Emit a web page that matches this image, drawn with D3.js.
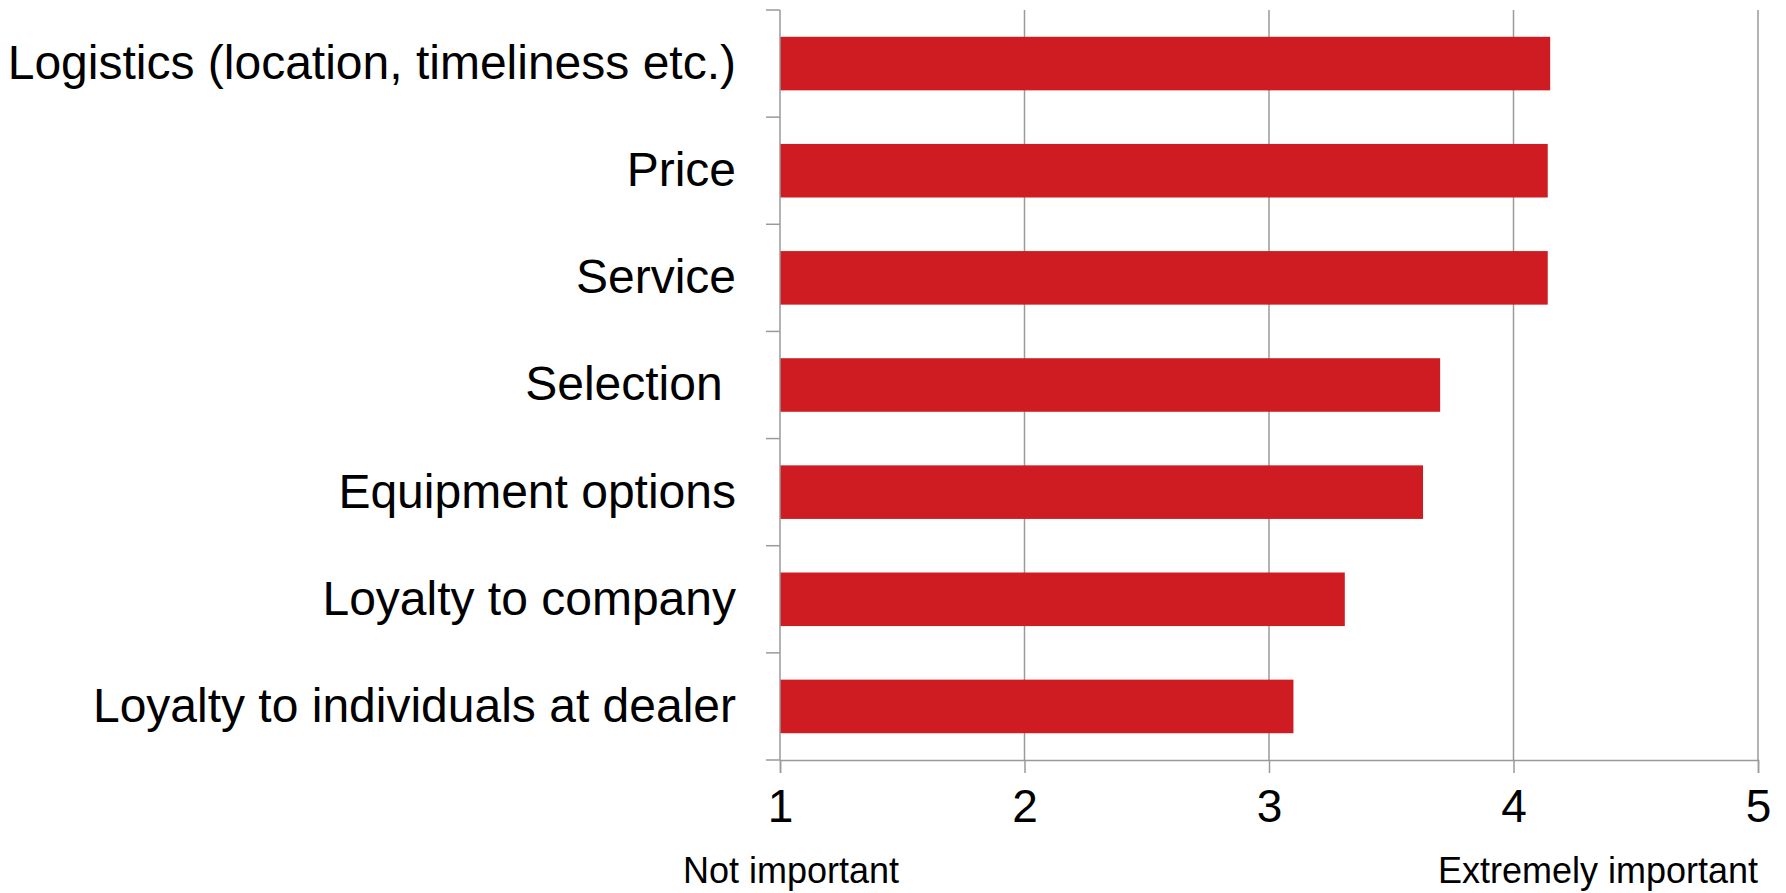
<!DOCTYPE html>
<html>
<head>
<meta charset="utf-8">
<script src="https://cdn.jsdelivr.net/npm/d3@7"></script>
<style>
  html, body { margin: 0; padding: 0; background: #fff; }
  svg { display: block; font-family: "Liberation Sans", Arial, sans-serif; }
</style>
</head>
<body>
<svg id="chart" width="1786" height="893"></svg>
<script>
// Importance ratings (1 = not important, 5 = extremely important)
const categories = [
  "Logistics (location, timeliness etc.)",
  "Price",
  "Service",
  "Selection ",
  "Equipment options",
  "Loyalty to company",
  "Loyalty to individuals at dealer"
];
const ratings = [4.15, 4.14, 4.14, 3.70, 3.63, 3.31, 3.10];
const tickValues = [1, 2, 3, 4, 5];
const scaleEndLabels = ["Not important", "Extremely important"];

const margin = { top: 10, left: 780, right: 28, bottom: 133 };
const width = 1786, height = 893;
const plotW = width - margin.left - margin.right;
const plotH = height - margin.top - margin.bottom;

const svg = d3.select("#chart");
const g = svg.append("g").attr("transform", `translate(${margin.left},${margin.top})`);

const x = d3.scaleLinear().domain([1, 5]).range([0, plotW]);
const y = d3.scaleBand().domain(categories).range([0, plotH])
  .paddingInner(0.5).paddingOuter(0.25);
const step = y.step();

const axisColor = "#9a9a9a";

// vertical gridlines
g.selectAll("line.grid").data(tickValues.slice(1)).join("line")
  .attr("class", "grid")
  .attr("x1", d => x(d)).attr("x2", d => x(d))
  .attr("y1", 0).attr("y2", plotH)
  .attr("stroke", axisColor).attr("stroke-width", 1.5);

// bars
g.selectAll("rect.bar").data(categories).join("rect")
  .attr("class", "bar")
  .attr("x", x(1))
  .attr("y", d => y(d))
  .attr("width", (d, i) => x(ratings[i]) - x(1))
  .attr("height", y.bandwidth())
  .attr("fill", "#ce1c22");

// bottom axis
const xAxis = d3.axisBottom(x).tickValues(tickValues).tickSize(13).tickPadding(16)
  .tickFormat(d3.format("d"));
const gx = g.append("g").attr("transform", `translate(0,${plotH})`).call(xAxis);
gx.select(".domain").attr("stroke", axisColor).attr("stroke-width", 1.5);
gx.selectAll(".tick line").attr("stroke", axisColor).attr("stroke-width", 1.5);
gx.selectAll(".tick text").attr("font-size", 46).attr("fill", "#000")
  .attr("font-family", "Liberation Sans, Arial, sans-serif");

// left axis: ticks at category boundaries
const boundaries = d3.range(categories.length + 1).map(i => i * step);
g.append("line")
  .attr("x1", 0).attr("x2", 0).attr("y1", 0).attr("y2", plotH)
  .attr("stroke", axisColor).attr("stroke-width", 1.5);
g.selectAll("line.ytick").data(boundaries).join("line")
  .attr("class", "ytick")
  .attr("x1", -14).attr("x2", 0)
  .attr("y1", d => d).attr("y2", d => d)
  .attr("stroke", axisColor).attr("stroke-width", 1.5);

// category labels
g.selectAll("text.cat").data(categories).join("text")
  .attr("class", "cat")
  .attr("x", -44)
  .attr("y", d => y(d) + y.bandwidth() / 2)
  .attr("dy", "0.32em")
  .attr("text-anchor", "end")
  .attr("font-size", 48)
  .attr("fill", "#000")
  .style("white-space", "pre")
  .text(d => d);

// scale end descriptions
svg.append("text")
  .attr("x", 683).attr("y", 883)
  .attr("font-size", 36).attr("fill", "#000")
  .text(scaleEndLabels[0]);
svg.append("text")
  .attr("x", margin.left + x(5)).attr("y", 883)
  .attr("text-anchor", "end")
  .attr("font-size", 36).attr("fill", "#000")
  .text(scaleEndLabels[1]);
</script>
</body>
</html>
